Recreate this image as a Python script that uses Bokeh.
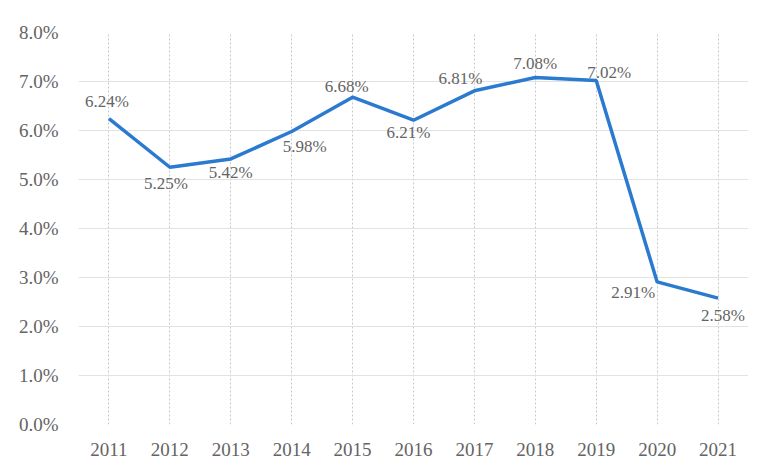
from bokeh.plotting import figure
from bokeh.models import ColumnDataSource, FactorRange, FixedTicker, Range1d, CustomJSTickFormatter
from bokeh.core.properties import value
from bokeh.embed import file_html
from bokeh.resources import INLINE

years = ["2011", "2012", "2013", "2014", "2015", "2016", "2017", "2018", "2019", "2020", "2021"]
rates = [6.24, 5.25, 5.42, 5.98, 6.68, 6.21, 6.81, 7.08, 7.02, 2.91, 2.58]
y_ticks = [0, 1, 2, 3, 4, 5, 6, 7, 8]

# label placement (screen px offsets), style only
label_dx = [-2, -4, 0, 13, -6, -5, -14, 0, 13, -24, 5]
label_dy = [-17, 16, 14, 15, -11, 12, -12, -14, -8, 11, 17]

labels = ["%.2f%%" % r for r in rates]
src = ColumnDataSource(dict(x=years, y=rates, lab=labels, dx=label_dx, dy=label_dy))

FONT = "Liberation Serif"
GRAY = "#646464"

p = figure(width=756, height=458, x_range=FactorRange(*years, range_padding=0),
           y_range=Range1d(0, 8), output_backend="svg", toolbar_location=None,
           min_border_left=78, min_border_right=8, min_border_top=32, min_border_bottom=34)
p.outline_line_color = None

p.line("x", "y", source=src, line_color="#2a7ad0", line_width=3.5)
p.text("x", "y", text="lab", x_offset="dx", y_offset="dy", source=src,
       text_font=value(FONT), text_font_size="17px", text_color=GRAY,
       text_align="center", text_baseline="middle")

p.yaxis.ticker = FixedTicker(ticks=y_ticks)
p.yaxis.formatter = CustomJSTickFormatter(code="return tick.toFixed(1) + '%';")
for ax in (p.xaxis, p.yaxis):
    ax.axis_line_color = None
    ax.major_tick_line_color = None
    ax.minor_tick_line_color = None
    ax.major_label_text_font = FONT
    ax.major_label_text_font_size = "19px"
    ax.major_label_text_color = GRAY
p.yaxis.major_label_standoff = 14
p.xaxis.major_label_standoff = 12

p.ygrid.grid_line_color = "#e2e2e2"
p.ygrid.grid_line_width = 1
p.xgrid.grid_line_color = "#c8c8c8"
p.xgrid.grid_line_dash = "2 2"
p.xgrid.grid_line_width = 1

open("out.html", "w").write(file_html(p, INLINE))
